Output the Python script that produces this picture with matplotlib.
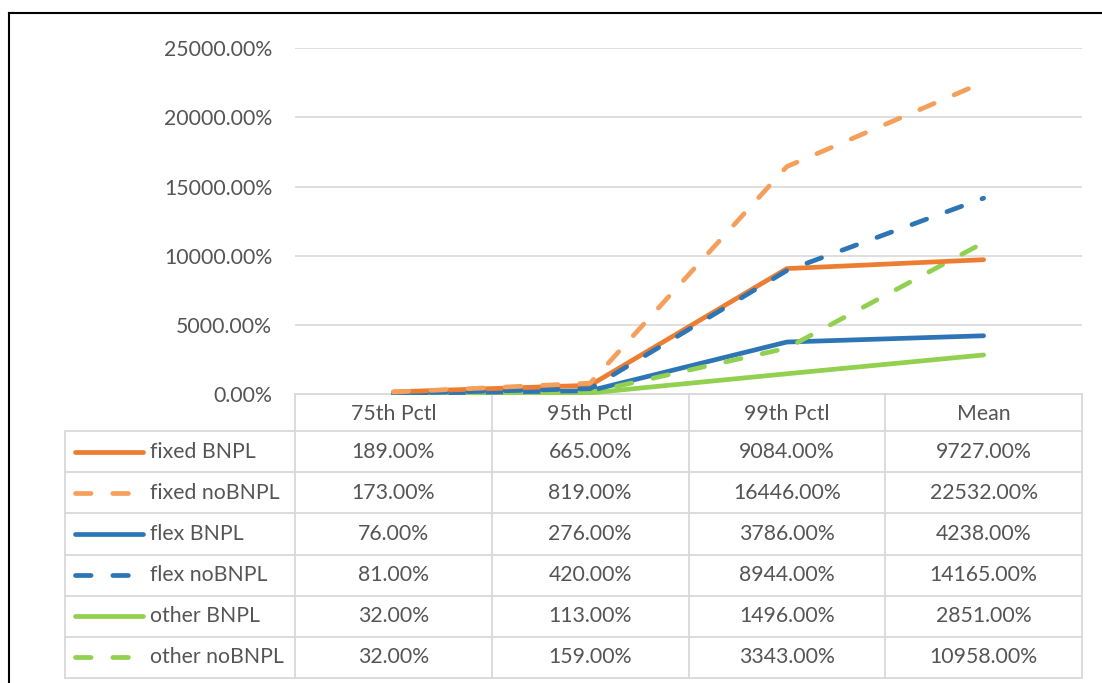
import matplotlib
matplotlib.use("Agg")
import matplotlib.pyplot as plt

plt.rcParams['font.family'] = ['Lato', 'DejaVu Sans']

# data
categories = ["75th Pctl", "95th Pctl", "99th Pctl", "Mean"]
series_names = ["fixed BNPL", "fixed noBNPL", "flex BNPL", "flex noBNPL", "other BNPL", "other noBNPL"]
fixed_bnpl = [189, 665, 9084, 9727]
fixed_nobnpl = [173, 819, 16446, 22532]
flex_bnpl = [76, 276, 3786, 4238]
flex_nobnpl = [81, 420, 8944, 14165]
other_bnpl = [32, 113, 1496, 2851]
other_nobnpl = [32, 159, 3343, 10958]
yticks = [0, 5000, 10000, 15000, 20000, 25000]

values = [fixed_bnpl, fixed_nobnpl, flex_bnpl, flex_nobnpl, other_bnpl, other_nobnpl]
colors = ["#ED7D31", "#F4A05C", "#2E75B6", "#2E75B6", "#92D050", "#92D050"]
dashed = [False, True, False, True, False, True]

txt = "#555555"
grid = "#d9d9d9"
W, H = 1102, 683

fig = plt.figure(figsize=(W / 100, H / 100), dpi=100)

# overlay in pixel coordinates for the frame and data table
ov = fig.add_axes([0, 0, 1, 1], zorder=0)
ov.set_xlim(0, W)
ov.set_ylim(H, 0)
ov.axis("off")

# plot area
px0, px1 = 295, 1082
py_top, py_bot = 48, 394.5
ax = fig.add_axes([px0 / W, (H - py_bot) / H, (px1 - px0) / W, (py_bot - py_top) / H], zorder=1)
ax.set_facecolor("none")

def style_kw(i):
    kw = dict(color=colors[i], lw=3.4, solid_capstyle="round", dash_capstyle="round")
    if dashed[i]:
        kw["dashes"] = (3.3, 4.6)
    return kw

x = range(len(categories))
for i in [4, 2, 5, 0, 3, 1]:
    ax.plot(x, values[i], **style_kw(i), zorder=3)

ax.set_xlim(-0.5, len(categories) - 0.5)
ax.set_ylim(0, 25000)
ax.set_yticks(yticks)
ax.set_yticklabels([f"{v:.2f}%" for v in yticks], fontsize=15.3, color=txt)
ax.tick_params(axis="y", length=0, pad=16.5)
ax.set_xticks([])
ax.grid(axis="y", color=grid, lw=1.2)
for s in ax.spines.values():
    s.set_visible(False)

# outer frame (cropped chart border)
ov.plot([9, 9], [13, H], color="black", lw=1.5)
ov.plot([9, W], [13, 13], color="black", lw=1.5)

# data table
lab_x0 = 65
col_w = (px1 - px0) / len(categories)
col_edges = [px0 + k * col_w for k in range(len(categories) + 1)]
head_top, head_bot = 394, 431
row_h = (678 - head_bot) / len(series_names)
row_edges = [head_bot + k * row_h for k in range(len(series_names) + 1)]

lkw = dict(color=grid, lw=1.3, zorder=1)
ov.plot([px0, px1], [head_top, head_top], **lkw)
for y in row_edges:
    ov.plot([lab_x0, px1], [y, y], **lkw)
ov.plot([lab_x0, lab_x0], [head_bot, row_edges[-1]], **lkw)
for cx in col_edges:
    ov.plot([cx, cx], [head_top, row_edges[-1]], **lkw)

for j, c in enumerate(categories):
    ov.text(col_edges[j] + col_w / 2, (head_top + head_bot) / 2 + 1, c,
            ha="center", va="center", fontsize=15.3, color=txt)

for i, name in enumerate(series_names):
    yc = row_edges[i] + row_h / 2
    ov.plot([75, 143], [yc, yc], **style_kw(i))
    ov.text(150, yc, name, ha="left", va="center", fontsize=15.3, color=txt)
    for j, v in enumerate(values[i]):
        ov.text(col_edges[j] + col_w / 2, yc, f"{v:.2f}%",
                ha="center", va="center", fontsize=15.3, color=txt)

fig.savefig("out.png", dpi=100)
